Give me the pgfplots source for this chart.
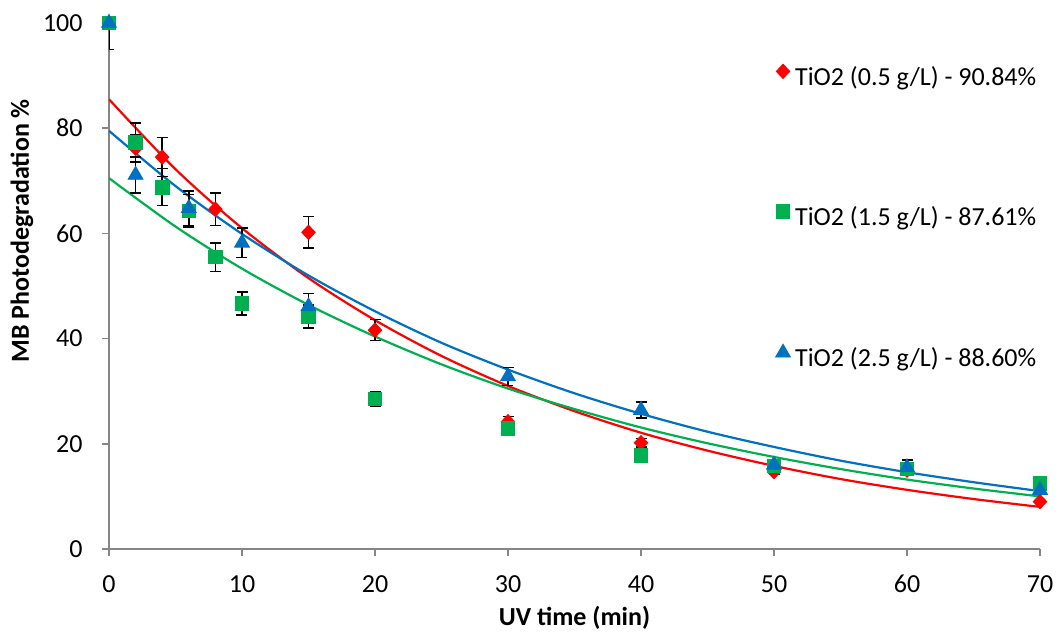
\documentclass[border=0pt]{standalone}
\usepackage{fontspec}
\setmainfont{Carlito}
\usepackage{pgfplots}
\pgfplotsset{compat=1.18}
\usepackage{pgfplotstable}
\definecolor{cred}{RGB}{255,0,0}
\definecolor{cgreen}{RGB}{0,176,80}
\definecolor{cblue}{RGB}{0,112,192}
\definecolor{caxis}{RGB}{134,134,134}
\pgfplotsset{markleg/.style={legend image code/.code={\draw[##1] plot coordinates {(0pt,4.1pt)};}}}
\pgfplotstableread{
x y e
0 100 0
2 76.2 2.5
4 74.5 3.7
8 64.6 3.1
15 60.2 3.0
20 41.6 2.0
30 24.2 1.0
40 20.2 0.8
50 14.7 0.5
60 15.0 0.5
70 9.0 0.3
}\red
\pgfplotstableread{
x y e
0 100 5
2 77.3 3.7
4 68.8 3.5
6 64.3 3.1
8 55.5 2.7
10 46.7 2.2
15 44.2 2.2
20 28.5 1.4
30 22.9 0.8
40 17.8 0.5
50 15.8 0.5
60 15.2 0.5
70 12.5 0.3
}\green
\pgfplotstableread{
x y e
0 100 0
2 71.1 3.4
6 64.8 3.3
10 58.2 2.8
15 46.1 2.5
30 32.8 1.7
40 26.4 1.5
50 16.0 0.8
60 15.5 1.4
70 11.2 0.5
}\blue
\begin{document}
\begin{tikzpicture}
\begin{axis}[
  scale only axis,
  width=465.5pt, height=263pt,
  xmin=0, xmax=70, ymin=0, ymax=100,
  xtick={0,10,...,70}, ytick={0,20,...,100},
  axis x line*=bottom, axis y line*=left,
  axis line style={-, draw=caxis, line width=0.75pt},
  tick align=outside, major tick length=3.5pt,
  tick style={draw=caxis, line width=0.75pt},
  /pgf/number format/assume math mode=true,
  tick label style={font=\fontsize{13}{15}\selectfont},
  xticklabel style={inner sep=0pt, yshift=-9.5pt},
  yticklabel style={inner sep=0pt, xshift=-9.5pt},
  xlabel={UV time (min)}, ylabel={MB Photodegradation \%},
  label style={font=\fontsize{13}{15}\selectfont\bfseries},
  x label style={at={(axis description cs:0.5,-0.131)}, anchor=center},
  y label style={at={(axis description cs:-0.0934,0.605)}, anchor=center},
  legend style={at={(axis description cs:0.716,0.9217)}, anchor=north west,
    draw=none, fill=none, inner sep=0pt, outer sep=0pt,
    row sep=56.4pt, column sep=2.3pt,
    font=\fontsize{13}{15}\selectfont,
    nodes={inner sep=0pt, text height=9pt, text depth=3pt}},
  legend cell align=left,
  error bars/error bar style={black, line width=0.75pt},
  error bars/error mark options={rotate=90, mark size=2.75pt, line width=0.75pt},
]
% fitted exponential trendlines
\addplot[cred, line width=1.1pt, smooth, forget plot] coordinates {
(0,85.5)(5,72.2)(10,61.0)(15,51.5)(20,43.5)(25,36.7)(30,31.0)(35,26.2)
(40,22.1)(45,18.7)(50,15.8)(55,13.3)(60,11.25)(65,9.5)(70,8.0)};
\addplot[cgreen, line width=1.1pt, smooth, forget plot] coordinates {
(0,70.5)(5,61.3)(10,53.3)(15,46.4)(20,40.4)(25,35.1)(30,30.5)(35,26.6)
(40,23.1)(45,20.1)(50,17.5)(55,15.2)(60,13.2)(65,11.5)(70,10.0)};
\addplot[cblue, line width=1.1pt, smooth, forget plot] coordinates {
(0,79.5)(5,69.0)(10,59.9)(15,52.0)(20,45.2)(25,39.2)(30,34.1)(35,29.6)
(40,25.7)(45,22.3)(50,19.4)(55,16.8)(60,14.6)(65,12.7)(70,11.0)};
\addplot[only marks, mark=diamond*, mark size=3.6pt,
  mark options={draw=cred, fill=cred, xscale=1.25}, markleg,
  error bars/.cd, y dir=both, y explicit]
  table[x=x, y=y, y error=e] {\red};
\addlegendentry{TiO2 (0.5 g/L) - 90.84\%}
\addplot[only marks, mark=square*, mark size=3.4pt,
  mark options={draw=cgreen, fill=cgreen}, markleg,
  error bars/.cd, y dir=both, y explicit]
  table[x=x, y=y, y error=e] {\green};
\addlegendentry{TiO2 (1.5 g/L) - 87.61\%}
\addplot[only marks, mark=triangle*, mark size=4.3pt,
  mark options={draw=cblue, fill=cblue}, markleg,
  error bars/.cd, y dir=both, y explicit]
  table[x=x, y=y, y error=e] {\blue};
\addlegendentry{TiO2 (2.5 g/L) - 88.60\%}
\end{axis}
\pgfresetboundingbox
\path[use as bounding box] (-54.5pt,-43pt) rectangle (475pt,274.5pt);
\end{tikzpicture}
\end{document}
